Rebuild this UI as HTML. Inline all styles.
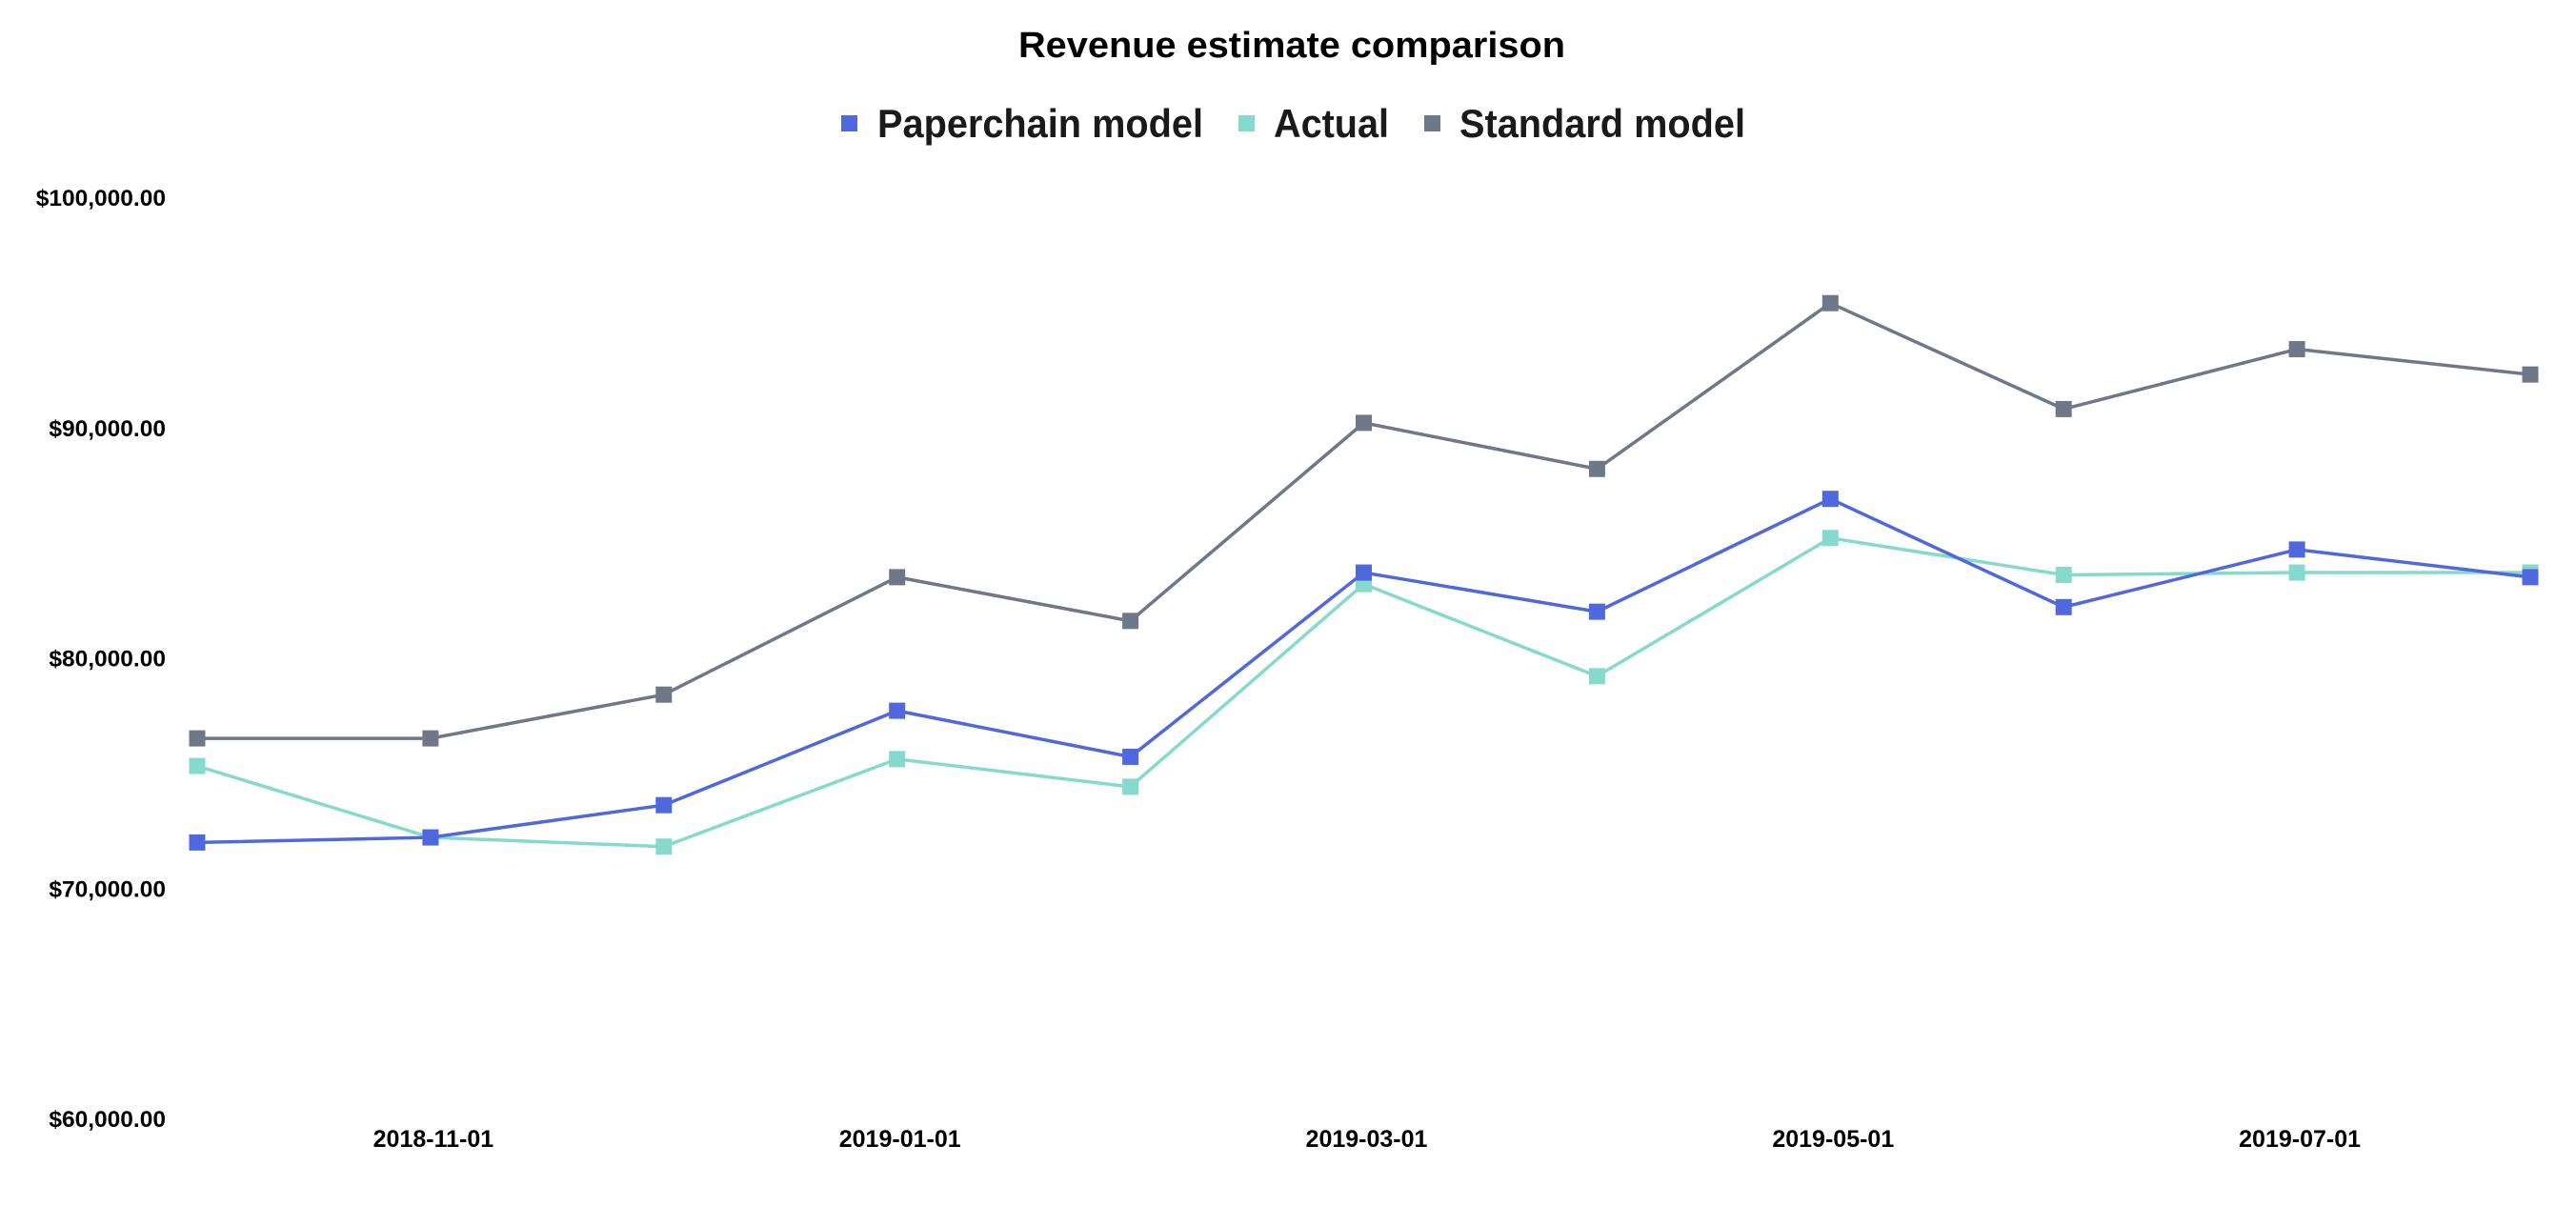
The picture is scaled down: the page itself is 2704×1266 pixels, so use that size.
<!DOCTYPE html>
<html><head><meta charset="utf-8"><style>
html,body{margin:0;padding:0;background:#fff;}
svg{display:block;font-family:"Liberation Sans",Arial,sans-serif;}
</style></head><body>
<svg id="chart" width="2704" height="1266" viewBox="0 0 2704 1266" xmlns="http://www.w3.org/2000/svg">
<text x="1356" y="60" text-anchor="middle" font-size="38" font-weight="bold" textLength="574" lengthAdjust="spacingAndGlyphs">Revenue estimate comparison</text>
<g transform="translate(0,-7)">
 <g><rect x="883" y="128" width="17" height="17" fill="#5068dd"/><text x="921" y="151" font-size="42" font-weight="bold" fill="#1a1a1a" textLength="342" lengthAdjust="spacingAndGlyphs">Paperchain model</text></g>
 <g><rect x="1300" y="128" width="17" height="17" fill="#86dacd"/><text x="1337" y="151" font-size="42" font-weight="bold" fill="#1a1a1a" textLength="121" lengthAdjust="spacingAndGlyphs">Actual</text></g>
 <g><rect x="1495" y="128" width="17" height="17" fill="#6f7889"/><text x="1532" y="151" font-size="42" font-weight="bold" fill="#1a1a1a" textLength="300" lengthAdjust="spacingAndGlyphs">Standard model</text></g>
</g>
<g id="yaxis"></g>
<g id="xaxis"></g>
<g id="series"></g>
</svg>
<script>
const categories = ["2018-10-01","2018-11-01","2018-12-01","2019-01-01","2019-02-01","2019-03-01","2019-04-01","2019-05-01","2019-06-01","2019-07-01","2019-08-01"];
const xTickLabels = ["2018-11-01","2019-01-01","2019-03-01","2019-05-01","2019-07-01"];
const yTicks = [60000,70000,80000,90000,100000];
const paperchain = [71980,72200,73600,77700,75700,83700,82000,86900,82200,84700,83500];
const actual = [75300,72200,71800,75600,74400,83200,79200,85200,83600,83700,83700];
const standard = [76500,76500,78400,83500,81600,90200,88200,95400,90800,93400,92300];

const NS="http://www.w3.org/2000/svg";
const X0=207, X1=2656, Y0=1174, Y1=207, VMIN=60000, VMAX=100000;
function xPos(i){return X0+(X1-X0)*i/(categories.length-1);}
function yPos(v){return Y0-(v-VMIN)/(VMAX-VMIN)*(Y0-Y1);}
function mk(tag,attrs,parent){const e=document.createElementNS(NS,tag);for(const k in attrs)e.setAttribute(k,attrs[k]);parent.appendChild(e);return e;}
const yg=document.getElementById('yaxis');
yTicks.forEach(v=>{
 const t=mk('text',{x:174,y:yPos(v)+9,'text-anchor':'end','font-size':24.5,'font-weight':'bold'},yg);
 
 
 t.textContent='$'+v.toLocaleString('en-US')+'.00';
});
const xg=document.getElementById('xaxis');
xTickLabels.forEach(l=>{
 const i=categories.indexOf(l);
 const t=mk('text',{x:xPos(i)+3,y:1204,'text-anchor':'middle','font-size':25,'font-weight':'bold'},xg);
 
 
 t.textContent=l;
});
const sg=document.getElementById('series');
[[standard,'#6f7889','standard'],[actual,'#86dacd','actual'],[paperchain,'#5068dd','paperchain']].forEach(([d,c,n])=>{
 const g=mk('g',{},sg);
 
 
 const p=mk('polyline',{points:d.map((v,i)=>xPos(i)+','+yPos(v)).join(' '),fill:'none',stroke:c,'stroke-width':3.5},g);
 
 
 d.forEach((v,i)=>{
  const r=mk('rect',{x:xPos(i)-8.5,y:yPos(v)-8.5,width:17,height:17,fill:c},g);
  
  
 });
});
</script>
</body></html>
